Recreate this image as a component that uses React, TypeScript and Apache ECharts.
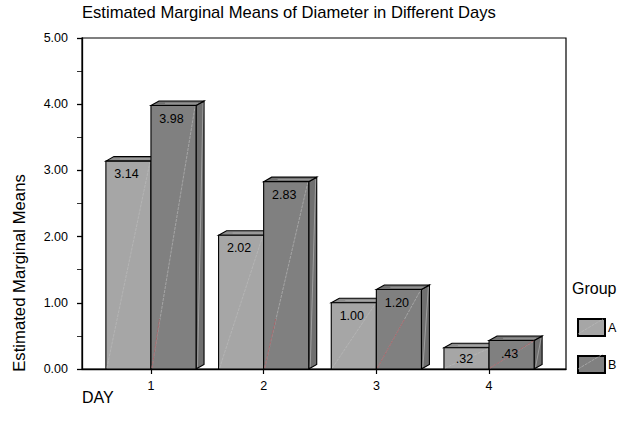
import React, { useEffect, useRef } from "react";
import * as echarts from "echarts";

const days = [1, 2, 3, 4];
const groupA = [3.14, 2.02, 1.0, 0.32];
const groupB = [3.98, 2.83, 1.2, 0.43];
const yTicks = [0, 1, 2, 3, 4, 5];
const titleText = "Estimated Marginal Means of Diameter in Different Days";
const yName = "Estimated Marginal Means";
const xName = "DAY";
const legendTitle = "Group";

const FONT = '"Liberation Sans", Arial, sans-serif';
const fmt = (v: number) => v.toFixed(2).replace(/^0\./, ".");

function barSeries(name: string, values: number[], face: string, top: string, side: string, offset: number, red: boolean) {
  return {
    type: "custom",
    name,
    clip: false,
    itemStyle: { color: face, borderColor: "#000", borderWidth: 1.2 },
    data: days.map((d, i) => [d, values[i]]),
    encode: { x: 0, y: 1 },
    renderItem: (_: any, api: any) => {
      const day = api.value(0);
      const val = api.value(1);
      const w = api.size([0.4, 0])[0];
      const [cx, y0] = api.coord([day, 0]);
      const [, y1] = api.coord([day, val]);
      const x0 = cx + offset * w;
      const x1 = x0 + w;
      const dx = 8;
      const dy = 4.5;
      const stroke = { stroke: "#000", lineWidth: 1.1 };
      const children: any[] = [
        { type: "polygon", shape: { points: [[x1, y0], [x1 + dx, y0 - dy], [x1 + dx, y1 - dy], [x1, y1]] }, style: { fill: side, ...stroke } },
        { type: "polygon", shape: { points: [[x0, y1], [x0 + dx, y1 - dy], [x1 + dx, y1 - dy], [x1, y1]] }, style: { fill: top, ...stroke } },
        { type: "rect", shape: { x: x0, y: y1, width: w, height: y0 - y1 }, style: { fill: face, ...stroke } },
        { type: "line", shape: { x1: x0 + 1, y1: y0 - 1, x2: x1 - 1, y2: y1 + 1 }, style: { stroke: "#bdbdbd", lineWidth: 0.6, lineDash: [3, 1] } },
        { type: "line", shape: { x1: x1 + 1.5, y1: y0 - 2, x2: x1 + dx - 1, y2: y1 - dy + 2 }, style: { stroke: "#bdbdbd", lineWidth: 0.6 } },
        { type: "line", shape: { x1: x0 + dx + 6, y1: y1 - dy / 2, x2: x1 + 2, y2: y1 - dy / 2 }, style: { stroke: "#b5b5b5", lineWidth: 0.6 } },
      ];
      if (red) {
        const t = Math.min(50 / (y0 - y1), 1);
        children.push({
          type: "line",
          shape: { x1: x0 + 1, y1: y0 - 1, x2: x0 + (x1 - x0) * t, y2: y0 - (y0 - y1) * t },
          style: { stroke: "#a5575c", lineWidth: 0.8, lineDash: [3, 1] },
        });
      }
      children.push({
        type: "text",
        style: {
          x: x0 + w / 2 - 2,
          y: Math.min(y1 + 13, y0 - 10),
          text: fmt(val),
          fill: "#000",
          font: `12.5px ${FONT}`,
          align: "center",
          verticalAlign: "middle",
        },
      });
      return { type: "group", children };
    },
  };
}

export default function App() {
  const ref = useRef<HTMLDivElement>(null);
  useEffect(() => {
    const chart = echarts.init(ref.current!, null, { renderer: "svg" });
    const small = { color: "#000", fontFamily: FONT, fontSize: 12.5 };
    chart.setOption({
      animation: false,
      backgroundColor: "#fff",
      title: {
        text: titleText,
        left: 82,
        top: 4,
        padding: 0,
        textStyle: { color: "#000", fontFamily: FONT, fontSize: 16.6, fontWeight: "normal" },
      },
      grid: { left: 82, right: 60, top: 38, bottom: 64, show: true, borderColor: "#000", borderWidth: 1.2, backgroundColor: "#fff" },
      xAxis: {
        type: "value",
        min: 0.388,
        max: 4.683,
        splitLine: { show: false },
        axisLine: { show: true, lineStyle: { color: "#000", width: 1.3 } },
        axisTick: { show: true, length: 5, customValues: days, lineStyle: { color: "#000", width: 1.2 } },
        axisLabel: { ...small, margin: 10, customValues: days, formatter: (v: number) => String(v) },
      },
      yAxis: {
        type: "value",
        min: 0,
        max: 5,
        interval: 1,
        splitLine: { show: false },
        axisLine: { show: true, lineStyle: { color: "#000", width: 1.3 } },
        axisTick: { show: true, length: 5, lineStyle: { color: "#000", width: 1.3 } },
        minorTick: { show: true, splitNumber: 2, length: 5, lineStyle: { color: "#000", width: 0.8 } },
        axisLabel: { ...small, margin: 14, formatter: (v: number) => (yTicks.includes(v) ? v.toFixed(2) : "") },
      },
      legend: {
        orient: "vertical",
        left: 577,
        top: 318,
        padding: 0,
        itemWidth: 27,
        itemHeight: 17,
        itemGap: 18,
        icon: "rect",
        data: ["A", "B"],
        textStyle: { ...small, padding: [0, 0, 0, -2] },
      },
      graphic: [
        { type: "text", left: 572, top: 280, style: { text: legendTitle, fill: "#000", font: `16px ${FONT}` } },
        { type: "text", left: 82, top: 389, style: { text: xName, fill: "#000", font: `16px ${FONT}` } },
        { type: "text", x: 19, y: 273, rotation: Math.PI / 2, style: { text: yName, fill: "#000", font: `16.7px ${FONT}`, align: "center", verticalAlign: "middle" } },
        { type: "line", shape: { x1: 578, y1: 334, x2: 603, y2: 319 }, style: { stroke: "#bdbdbd", lineWidth: 0.6, lineDash: [3, 1] }, z: 10 },
        { type: "line", shape: { x1: 578, y1: 369, x2: 603, y2: 354 }, style: { stroke: "#bdbdbd", lineWidth: 0.6, lineDash: [3, 1] }, z: 10 },
      ],
      series: [
        barSeries("A", groupA, "#a6a6a6", "#8e8e8e", "#7a7a7a", -1, false),
        barSeries("B", groupB, "#808080", "#727272", "#6f6f6f", 0, true),
      ],
    });
    return () => chart.dispose();
  }, []);
  return <div ref={ref} style={{ position: "absolute", left: 0, top: 0, width: 626, height: 433 }} />;
}
